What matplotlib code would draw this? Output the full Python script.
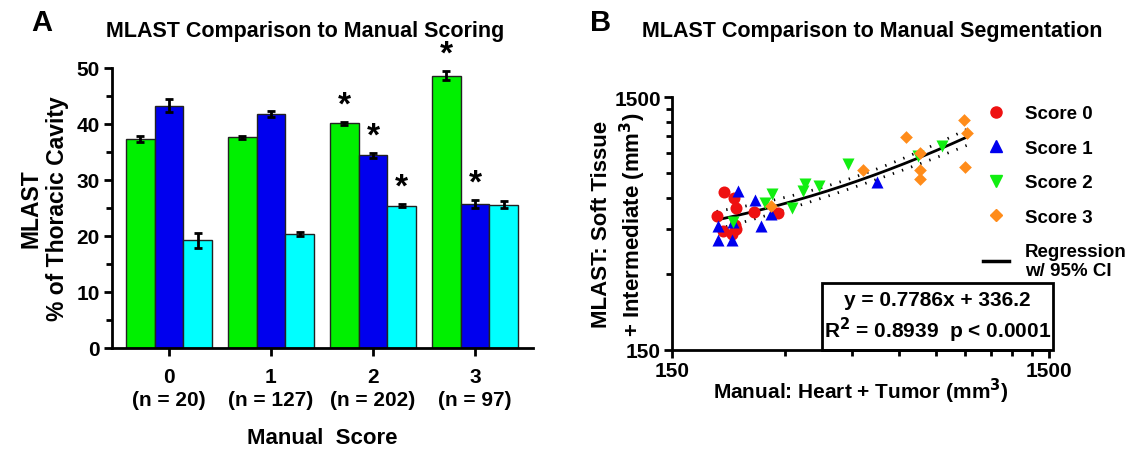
import numpy as np
import matplotlib.pyplot as plt
from matplotlib.ticker import NullFormatter
from matplotlib.patches import Rectangle
from matplotlib.lines import Line2D

plt.rcParams['font.family'] = ['Liberation Sans', 'DejaVu Sans']
plt.rcParams['font.weight'] = 'bold'

# ---- panel A data ----
scores = [0, 1, 2, 3]
n_labels = ["0\n(n = 20)", "1\n(n = 127)", "2\n(n = 202)", "3\n(n = 97)"]
green_vals = [37.3, 37.6, 40.1, 48.6]
green_err = [0.5, 0.3, 0.3, 0.8]
blue_vals = [43.3, 41.8, 34.4, 25.7]
blue_err = [1.2, 0.5, 0.5, 0.7]
cyan_vals = [19.2, 20.4, 25.4, 25.6]
cyan_err = [1.3, 0.4, 0.3, 0.6]
green_sig = [False, False, True, True]
blue_sig = [False, False, True, True]
cyan_sig = [False, False, True, False]

# ---- panel B data ----
s0_x = [206, 219, 222, 197, 247, 287, 205, 220, 217, 222]
s0_y = [634, 597, 545, 507, 525, 522, 443, 466, 431, 451]
s1_x = [224, 249, 275, 258, 199, 199, 216, 218, 526]
s1_y = [637, 590, 519, 462, 465, 409, 409, 482, 691]
s2_x = [276, 264, 312, 339, 334, 369, 440, 672, 780, 218]
s2_y = [618, 571, 545, 680, 635, 670, 814, 879, 963, 481]
s3_x = [275, 483, 626, 682, 682, 682, 893, 907, 898]
s3_y = [558, 769, 1043, 904, 775, 712, 1215, 1085, 793]
slope, intercept = 0.7786, 336.2

fig = plt.figure(figsize=(11.43, 4.52), dpi=100)

# ================= Panel A =================
axA = fig.add_axes([112/1143, 1-349/452, (533-112)/1143, (349-69)/452])
w = 0.28
x = np.array(scores)
ekw = dict(elinewidth=2, capthick=2, capsize=3, ecolor='black')
series = [(green_vals, green_err, green_sig, '#00f000', -w),
          (blue_vals, blue_err, blue_sig, '#0000ee', 0),
          (cyan_vals, cyan_err, cyan_sig, '#00ffff', w)]
for vals, err, sig, col, off in series:
    axA.bar(x + off, vals, w, yerr=err, color=col, edgecolor='#222222',
            linewidth=1, error_kw=ekw, zorder=2)
    for xi, v, e, s in zip(x + off, vals, err, sig):
        if s:
            axA.annotate('*', (xi, v + e), xytext=(0, 1), textcoords='offset points',
                         ha='center', va='bottom', fontsize=24, fontweight='bold')

axA.set_xlim(-0.559, 3.569)
axA.set_ylim(0, 50)
axA.set_yticks(range(0, 51, 10))
axA.set_yticks(range(5, 50, 10), minor=True)
axA.set_xticks(x)
axA.set_xticklabels(n_labels, linespacing=1.25)
for sp in ['top', 'right']:
    axA.spines[sp].set_visible(False)
for sp in ['left', 'bottom']:
    axA.spines[sp].set_linewidth(2)
axA.tick_params(axis='both', which='major', width=2, length=6, labelsize=15, pad=3)
axA.tick_params(axis='x', which='major', pad=8)
axA.tick_params(axis='y', which='minor', width=2, length=4)
axA.set_ylabel("MLAST\n% of Thoracic Cavity", fontsize=16.5, fontweight='bold',
               labelpad=5, linespacing=1.2)
axA.set_xlabel("Manual  Score", fontsize=16, fontweight='bold', labelpad=13)

fig.text(305/1143, 1-31/452, "MLAST Comparison to Manual Scoring", ha='center',
         va='center', fontsize=15.5, fontweight='bold')
fig.text(42/1143, 1-23/452, "A", ha='center', va='center', fontsize=21, fontweight='bold')

# ================= Panel B =================
axB = fig.add_axes([672/1143, 1-350.5/452, (1049-672)/1143, (350.5-98.3)/452])
axB.set_xscale('log')
axB.set_yscale('log')

all_x = np.array(s0_x + s1_x + s2_x + s3_x, dtype=float)
all_y = np.array(s0_y + s1_y + s2_y + s3_y, dtype=float)
n = len(all_x)
resid = all_y - (slope * all_x + intercept)
s_err = np.sqrt(np.sum(resid**2) / (n - 2))
xbar = all_x.mean()
sxx = np.sum((all_x - xbar)**2)
xf = np.linspace(all_x.min(), all_x.max(), 200)
yf = slope * xf + intercept
ci = 2.02 * s_err * np.sqrt(1/n + (xf - xbar)**2 / sxx)

axB.plot(xf, yf, color='black', lw=2, zorder=3)
axB.plot(xf, yf + ci, color='black', lw=2, ls=(0, (0.5, 3)), zorder=3)
axB.plot(xf, yf - ci, color='black', lw=2, ls=(0, (0.5, 3)), zorder=3)

axB.scatter(s0_x, s0_y, marker='o', s=75, color='#ee1111', zorder=4, lw=0)
axB.scatter(s1_x, s1_y, marker='^', s=75, color='#0000ee', zorder=4, lw=0)
axB.scatter(s2_x, s2_y, marker='v', s=75, color='#11ee11', zorder=4, lw=0)
axB.scatter(s3_x, s3_y, marker='D', s=42, color='#ff8c1a', zorder=4, lw=0)

axB.set_xlim(150, 1500)
axB.set_ylim(150, 1500)
axB.set_xticks([150, 1500])
axB.set_xticklabels(['150', '1500'])
axB.set_yticks([150, 1500])
axB.set_yticklabels(['150', '1500'])
minor = list(range(300, 1500, 150))
axB.set_xticks(minor, minor=True)
axB.set_yticks(minor, minor=True)
axB.xaxis.set_minor_formatter(NullFormatter())
axB.yaxis.set_minor_formatter(NullFormatter())
for sp in ['top', 'right']:
    axB.spines[sp].set_visible(False)
for sp in ['left', 'bottom']:
    axB.spines[sp].set_linewidth(2)
axB.tick_params(axis='both', which='major', width=2, length=6, labelsize=15, pad=2)
axB.tick_params(axis='both', which='minor', width=2, length=4)
axB.set_ylabel("MLAST: Soft Tissue\n+ Intermediate (mm$^\\mathbf{3}$)", fontsize=16,
               fontweight='bold', labelpad=-24, linespacing=1.25)
axB.set_xlabel("Manual: Heart + Tumor (mm$^\\mathbf{3}$)", fontsize=15,
               fontweight='bold', labelpad=-3)

# equation box
axB.add_patch(Rectangle((0.398, 0.0), 0.613, 0.264, transform=axB.transAxes,
                        fill=False, edgecolor='black', lw=2, clip_on=False, zorder=5))
axB.text(0.704, 0.2, "y = 0.7786x + 336.2", transform=axB.transAxes, ha='center',
         va='center', fontsize=15, fontweight='bold')
axB.text(0.704, 0.08, "R$^\\mathbf{2}$ = 0.8939  p < 0.0001", transform=axB.transAxes,
         ha='center', va='center', fontsize=15, fontweight='bold')

handles = [
    Line2D([], [], marker='o', ls='none', color='#ee1111', markersize=8),
    Line2D([], [], marker='^', ls='none', color='#0000ee', markersize=8),
    Line2D([], [], marker='v', ls='none', color='#11ee11', markersize=8),
    Line2D([], [], marker='D', ls='none', color='#ff8c1a', markersize=6),
    Line2D([], [], color='black', lw=2.5),
]
labels = ["Score 0", "Score 1", "Score 2", "Score 3", "Regression\nw/ 95% CI"]
axB.legend(handles, labels, loc='upper left', bbox_to_anchor=(0.78, 1.035),
           frameon=False, prop={'weight': 'bold', 'size': 13.5},
           handlelength=1.4, handletextpad=0.85, labelspacing=0.92)

fig.text(872/1143, 1-31/452, "MLAST Comparison to Manual Segmentation", ha='center',
         va='center', fontsize=15.5, fontweight='bold')
fig.text(601/1143, 1-23/452, "B", ha='center', va='center', fontsize=21, fontweight='bold')

fig.savefig("out.png", dpi=100)
